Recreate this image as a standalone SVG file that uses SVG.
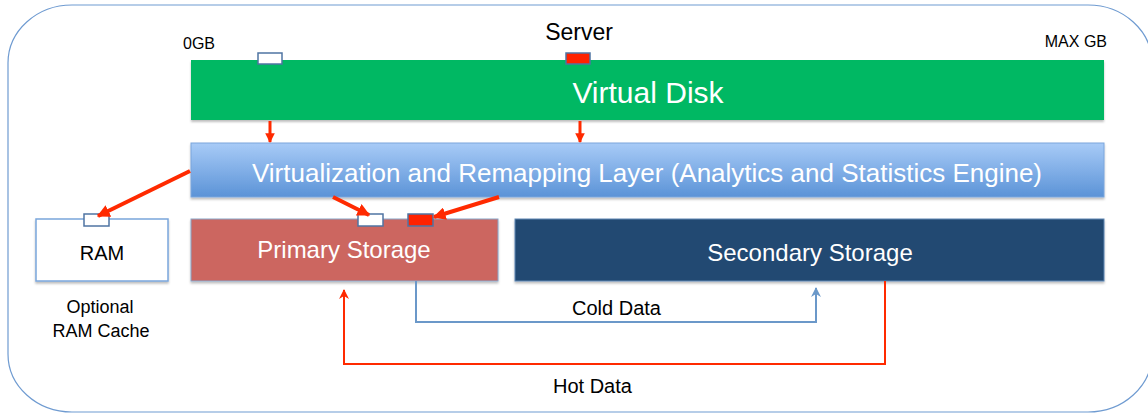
<svg xmlns="http://www.w3.org/2000/svg" width="1148" height="415" viewBox="0 0 1148 415">
  <defs>
    <style>
      text { font-family: "Liberation Sans", Arial, sans-serif; }
      .dark { fill: #000000; }
      .light { fill: #ffffff; }
      .slot-w { fill: #ffffff; stroke: #4f74a3; stroke-width: 1.5; }
      .slot-r { fill: #ff2200; stroke: #4f74a3; stroke-width: 1.5; }
      .thick { stroke: #ff2a00; stroke-width: 3; fill: none; }
      .diag { stroke: #ff2a00; stroke-width: 4; fill: none; }
      .hot { stroke: #ff2a00; stroke-width: 2; fill: none; }
      .cold { stroke: #6b98c9; stroke-width: 2; fill: none; }
      .shadow { filter: url(#sh); }
    </style>
    <linearGradient id="blueGrad" x1="0" y1="0" x2="0" y2="1">
      <stop offset="0" stop-color="#a8cbf7"/>
      <stop offset="1" stop-color="#5b93d7"/>
    </linearGradient>
    <filter id="sh" x="-5%" y="-20%" width="110%" height="150%">
      <feDropShadow dx="0" dy="2" stdDeviation="1.2" flood-color="#000" flood-opacity="0.25"/>
    </filter>
    <marker id="arrRed" viewBox="0 0 10 10" refX="9" refY="5" markerWidth="3.2" markerHeight="3.2" orient="auto" markerUnits="strokeWidth">
      <path d="M0,0 L10,5 L0,10 z" fill="#ff2a00"/>
    </marker>
    <marker id="arrRedThin" viewBox="0 0 10 10" refX="9" refY="5" markerWidth="5" markerHeight="5" orient="auto" markerUnits="strokeWidth">
      <path d="M0,0 L10,5 L0,10 L3,5 z" fill="#ff2a00"/>
    </marker>
    <marker id="arrBlue" viewBox="0 0 10 10" refX="9" refY="5" markerWidth="5" markerHeight="5" orient="auto" markerUnits="strokeWidth">
      <path d="M0,0 L10,5 L0,10 L3,5 z" fill="#6b98c9"/>
    </marker>
  </defs>

  <g id="server">
    <rect x="8" y="5" width="1144" height="407" rx="64" ry="58" fill="#ffffff" stroke="#6f9bd1" stroke-width="1.2"/>
    <text x="579" y="40" font-size="23" text-anchor="middle" class="dark">Server</text>
    <text x="183" y="49" font-size="16" class="dark">0GB</text>
    <text x="1107" y="47" font-size="16" text-anchor="end" class="dark">MAX GB</text>
  </g>

  <g id="virtual-disk">
    <rect x="191" y="60" width="913" height="60" fill="#00b864" class="shadow"/>
    <text x="648" y="103" font-size="30" text-anchor="middle" class="light">Virtual Disk</text>
    <rect x="258" y="53" width="24" height="11" class="slot-w"/>
    <rect x="566" y="53" width="24" height="11" class="slot-r"/>
  </g>

  <g id="virtualization-layer">
    <rect x="191" y="143" width="913" height="54" fill="url(#blueGrad)" stroke="#7aa6dc" stroke-width="1" class="shadow"/>
    <text x="647" y="182" font-size="26" text-anchor="middle" class="light">Virtualization and Remapping Layer (Analytics and Statistics Engine)</text>
  </g>

  <g id="ram">
    <rect x="36" y="219" width="132" height="62" fill="#ffffff" stroke="#7aa6dc" stroke-width="1.5" class="shadow"/>
    <text x="102" y="260" font-size="20" text-anchor="middle" class="dark">RAM</text>
    <rect x="84" y="214" width="25" height="12" class="slot-w"/>
    <text x="100" y="313" font-size="18" text-anchor="middle" class="dark">Optional</text>
    <text x="101" y="337" font-size="18" text-anchor="middle" class="dark">RAM Cache</text>
  </g>

  <g id="primary-storage">
    <rect x="191" y="219" width="307" height="62" fill="#cc6660" stroke="#8aa5c8" stroke-width="1" class="shadow"/>
    <text x="344" y="258" font-size="24" text-anchor="middle" class="light">Primary Storage</text>
    <rect x="358" y="214" width="25" height="12" class="slot-w"/>
    <rect x="408" y="214" width="25" height="12" class="slot-r"/>
  </g>

  <g id="secondary-storage">
    <rect x="515" y="219" width="589" height="62" fill="#214a72" stroke="#5f86b3" stroke-width="1" class="shadow"/>
    <text x="810" y="261" font-size="24" text-anchor="middle" class="light">Secondary Storage</text>
  </g>

  <g id="connectors">
    <line x1="270" y1="121" x2="270" y2="142" class="thick" marker-end="url(#arrRed)"/>
    <line x1="580" y1="121" x2="580" y2="142" class="thick" marker-end="url(#arrRed)"/>
    <line x1="190" y1="171" x2="98" y2="216" class="diag" marker-end="url(#arrRed)"/>
    <line x1="333" y1="197" x2="369" y2="215" class="diag" marker-end="url(#arrRed)"/>
    <line x1="499" y1="197" x2="434" y2="217" class="diag" marker-end="url(#arrRed)"/>
    <polyline points="416,281 416,322 816,322 816,288" class="cold" marker-end="url(#arrBlue)"/>
    <polyline points="885,281 885,364 344,364 344,290" class="hot" marker-end="url(#arrRedThin)"/>
    <text x="572" y="315" font-size="20" class="dark">Cold Data</text>
    <text x="553" y="393" font-size="20" class="dark">Hot Data</text>
  </g>
</svg>
